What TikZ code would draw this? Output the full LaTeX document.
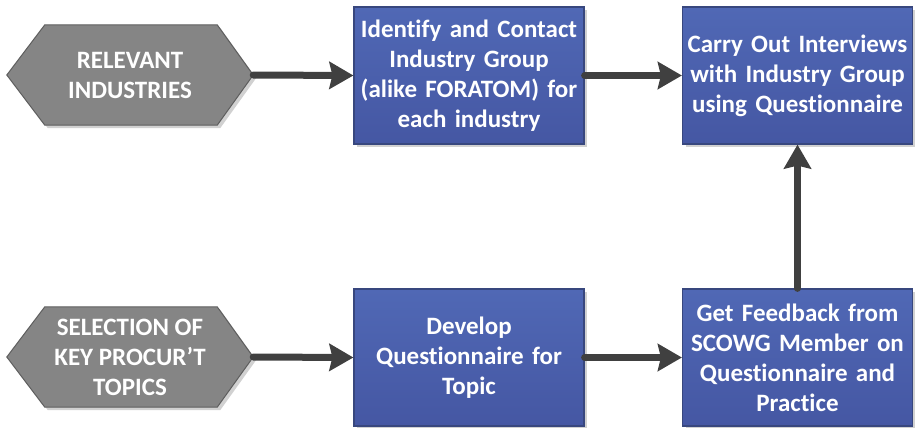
\documentclass[tikz,border=0pt]{standalone}
\usepackage{fontspec}
\setmainfont{Carlito}[Ligatures={NoCommon}]
\usetikzlibrary{arrows.meta,calc,shadows}
\definecolor{boxtop}{HTML}{5068B5}
\definecolor{boxbot}{HTML}{4557A3}
\definecolor{boxline}{HTML}{38477E}
\definecolor{hexfill}{HTML}{858585}
\definecolor{hexline}{HTML}{5E5E5E}
\definecolor{arrowc}{HTML}{404040}
\tikzset{
  txt/.style={font=\fontsize{25}{30}\selectfont\bfseries, text=white, align=center},
  bluebox/.style={txt, draw=boxline, line width=1.2pt, top color=boxtop, bottom color=boxbot,
    minimum width=230pt, minimum height=137pt, text width=228pt, inner sep=0pt,
    drop shadow={shadow xshift=3pt, shadow yshift=-3pt, fill=black!18, opacity=1}},
  hexnode/.style={txt, minimum width=246pt, minimum height=100pt, inner sep=0pt},
  hexshape/.style={fill=hexfill, draw=hexline, line width=1pt,
    drop shadow={shadow xshift=3pt, shadow yshift=-3pt, fill=black!18, opacity=1}},
  flow/.style={draw=arrowc, line width=7pt, line cap=round,
    -{Stealth[length=24pt, width=27pt, inset=3pt]}, shorten >=0pt}
}
\begin{document}
\begin{tikzpicture}[x=1pt,y=-1pt]
\useasboundingbox (0,0) rectangle (915,428);
% hexagon nodes
\node[hexnode] (rel) at (130,75) {};
\node[hexnode] (sel) at (130,357) {};
\foreach \h in {rel,sel}{
  \path[hexshape] (\h.west) -- ($(\h.north west)+(38,0)$) -- ($(\h.north east)+(-36,0)$)
    -- (\h.east) -- ($(\h.south east)+(-36,0)$) -- ($(\h.south west)+(38,0)$) -- cycle;
}
\node[txt] at (rel) {RELEVANT\\INDUSTRIES};
\node[txt] at (sel) {SELECTION OF\\KEY PROCUR’T\\TOPICS};
% blue boxes
\node[bluebox] (ident) at (469,75.5) {Identify and Contact\\Industry Group\\(alike FORATOM) for\\each industry};
\node[bluebox] (carry) at (797.5,75.5) {Carry Out Interviews\\with Industry Group\\using Questionnaire};
\node[bluebox] (dev) at (469,357.5) {Develop\\Questionnaire for\\Topic};
\node[bluebox] (feed) at (797.5,357.5) {Get Feedback from\\SCOWG Member on\\Questionnaire and\\Practice};
% connectors
\draw[flow] (rel.east) -- (ident.west);
\draw[flow] (ident.east) -- (carry.west);
\draw[flow] (sel.east) -- (dev.west);
\draw[flow] (dev.east) -- (feed.west);
\draw[flow] (feed.north) -- (carry.south);
\end{tikzpicture}
\end{document}
